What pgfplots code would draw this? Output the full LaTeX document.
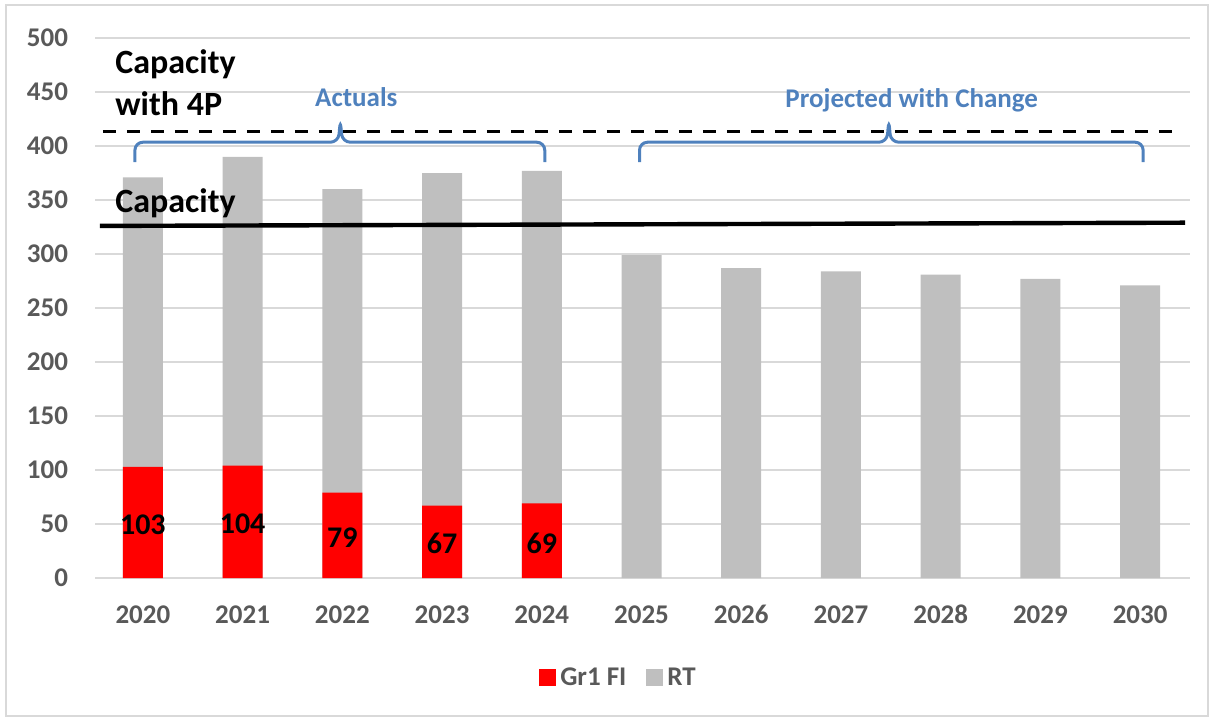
\documentclass[border=0pt]{standalone}
\usepackage{fontspec}
\setmainfont{Carlito}
\usepackage{pgfplots}
\pgfplotsset{compat=1.18}
\definecolor{barred}{HTML}{FF0000}
\definecolor{bargray}{HTML}{BFBFBF}
\definecolor{gridgray}{HTML}{D9D9D9}
\definecolor{labgray}{HTML}{595959}
\definecolor{bracketblue}{HTML}{4F81BD}

\begin{document}
\begin{tikzpicture}
\useasboundingbox (0,0) rectangle (605.5pt,359.5pt);
\draw[gridgray, line width=0.75pt] (3pt,1.5pt) rectangle (604pt,357pt);
\begin{axis}[
  at={(47.5pt,70.5pt)}, anchor=south west,
  width=547.5pt, height=270pt, scale only axis,
  xmin=-0.48, xmax=10.5, ymin=0, ymax=500,
  xtick={0,1,2,3,4,5,6,7,8,9,10},
  xticklabels={2020,2021,2022,2023,2024,2025,2026,2027,2028,2029,2030},
  ytick={0,50,...,500},
  ymajorgrids, grid style={gridgray, line width=0.75pt},
  axis line style={draw=none},
  major tick length=0pt,
  tick label style={font=\fontsize{13.5}{16}\selectfont\bfseries, text=labgray},
  /pgf/number format/assume math mode=true,
  yticklabel style={xshift=-10pt},
  xticklabel style={anchor=base, yshift=-22.5pt},
  legend style={at={(0.479,-0.185)}, anchor=center, draw=none, fill=none,
    legend columns=2, font=\fontsize{13.5}{16}\selectfont\bfseries, text=labgray,
    /tikz/every even column/.append style={column sep=8pt}},
  reverse legend,
  clip=false,
]
% total bar height (RT on top of Gr1 FI)
\addplot[ybar, bar width=20pt, bar shift=0pt, fill=bargray, draw=none,
  legend image code/.code={\fill[bargray] (0pt,-4.25pt) rectangle (8.5pt,4.25pt);}]
  coordinates {(0,371) (1,390) (2,360) (3,375) (4,377) (5,299) (6,287) (7,284) (8,281) (9,277) (10,271)};
\addlegendentry{RT}
\addplot[ybar, bar width=20pt, bar shift=0pt, fill=barred, draw=none,
  legend image code/.code={\fill[barred] (0pt,-4.25pt) rectangle (8.5pt,4.25pt);}]
  coordinates {(0,103) (1,104) (2,79) (3,67) (4,69)};
\addlegendentry{Gr1 FI}
% value labels inside the red bars
\addplot[draw=none, mark=none, forget plot, nodes near coords, point meta=explicit symbolic,
  nodes near coords style={anchor=center, font=\fontsize{15}{15}\selectfont\bfseries, text=black}]
  coordinates {(0,49)[103] (1,50.5)[104] (2,37)[79] (3,32)[67] (4,32.5)[69]};
% capacity lines
\addplot[black, line width=2.2pt, forget plot] coordinates {(-0.43,326) (10.45,329)};
\addplot[black, line width=1.6pt, dash pattern=on 6.5pt off 5.5pt, forget plot]
  coordinates {(-0.40,413.5) (10.32,413.5)};
% brackets
\addplot[bracketblue, line width=1.5pt, rounded corners=4pt, forget plot]
  coordinates {(-0.08,385) (-0.08,403.5) (1.96,403.5) (1.98,424) (2.0,403.5) (4.03,403.5) (4.03,385)};
\addplot[bracketblue, line width=1.5pt, rounded corners=4pt, forget plot]
  coordinates {(4.98,385) (4.98,403.5) (7.46,403.5) (7.48,424) (7.50,403.5) (10.03,403.5) (10.03,385)};
\node[anchor=base west, inner sep=0, font=\fontsize{17}{20}\selectfont\bfseries] at (axis cs:-0.28,466.7) {Capacity};
\node[anchor=base west, inner sep=0, font=\fontsize{17}{20}\selectfont\bfseries] at (axis cs:-0.28,428.7) {with 4P};
\node[anchor=base west, inner sep=0, font=\fontsize{17}{20}\selectfont\bfseries] at (axis cs:-0.28,338) {Capacity};
\node[anchor=base, inner sep=0, text=bracketblue, font=\fontsize{13.5}{16}\selectfont\bfseries] at (axis cs:2.14,436.4) {Actuals};
\node[anchor=base, inner sep=0, text=bracketblue, font=\fontsize{13.5}{16}\selectfont\bfseries] at (axis cs:7.71,435.8) {Projected with Change};
\end{axis}
\end{tikzpicture}
\end{document}
